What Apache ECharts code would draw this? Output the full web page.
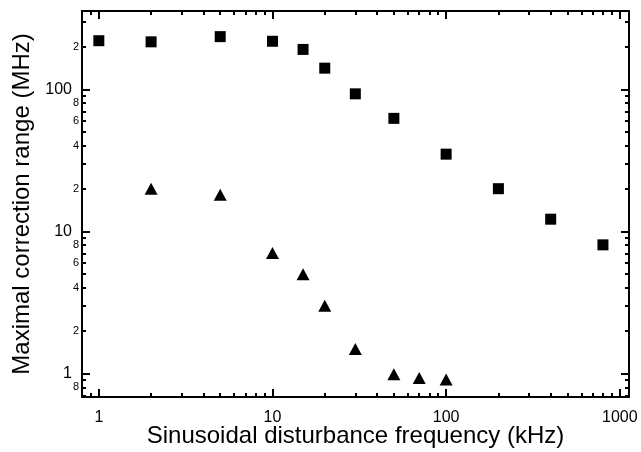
<!DOCTYPE html>
<html>
<head>
<meta charset="utf-8">
<script src="https://cdn.jsdelivr.net/npm/echarts@6/dist/echarts.min.js"></script>
<style>
html,body{margin:0;padding:0;background:#fff;}
#chart{width:641px;height:452px;}
</style>
</head>
<body>
<div id="chart"></div>
<script>
// Data
const freqSquares = [1, 2, 5, 10, 15, 20, 30, 50, 100, 200, 400, 800];
const rangeSquares = [220, 216, 235, 218, 191, 141, 93, 62.5, 35, 20, 12.2, 8.05];
const freqTriangles = [2, 5, 10, 15, 20, 30, 50, 70, 100];
const rangeTriangles = [20, 18.1, 7.05, 5.0, 3.0, 1.49, 0.99, 0.93, 0.907];

// Tick positions
const xMajor = [1, 10, 100, 1000];
const xMinor = [0.9, 2, 3, 4, 5, 6, 7, 8, 9, 20, 30, 40, 50, 60, 70, 80, 90, 200, 300, 400, 500, 600, 700, 800, 900];
const yMajor = [1, 10, 100];
const yLabeled = [0.8, 1, 2, 4, 6, 8, 10, 20, 40, 60, 80, 100, 200];
const yMinor = [0.7, 0.8, 0.9, 2, 3, 4, 5, 6, 7, 8, 9, 20, 30, 40, 50, 60, 70, 80, 90, 200, 300];

const X_MIN = 0.8, X_MAX = 1130;
const Y_MIN = 0.684, Y_MAX = 356;

const FONT = 'Liberation Sans, Arial, sans-serif';
const black = '#000';

function yFmt(v) {
  const l = Math.log10(v);
  if (Math.abs(l - Math.round(l)) < 1e-6) return '{big|' + Math.round(Math.pow(10, Math.round(l))) + '}';
  const d = Math.round(v / Math.pow(10, Math.floor(l + 1e-9)));
  return '{small|' + d + '}';
}

function xAxisDef(pos, ticks, len, showLine, label, name) {
  return {
    type: 'log', logBase: 10, min: X_MIN, max: X_MAX, position: pos,
    axisLine: { show: showLine, onZero: false, lineStyle: { color: black, width: 2 } },
    axisTick: { show: true, inside: true, length: len, customValues: ticks, lineStyle: { color: black, width: 2 } },
    axisLabel: label ? {
      show: true, customValues: xMajor, color: black, fontSize: 16, fontFamily: FONT, margin: 13,
      formatter: v => String(Math.round(v))
    } : { show: false },
    splitLine: { show: false },
    minorTick: { show: false },
    name: name || '',
    nameLocation: 'middle', nameGap: 27, nameMoveOverlap: false,
    nameTextStyle: { color: black, fontSize: 24, fontFamily: FONT }
  };
}
function yAxisDef(pos, ticks, len, showLine, label, name) {
  return {
    type: 'log', logBase: 10, min: Y_MIN, max: Y_MAX, position: pos,
    axisLine: { show: showLine, onZero: false, lineStyle: { color: black, width: 2 } },
    axisTick: { show: true, inside: true, length: len, customValues: ticks, lineStyle: { color: black, width: 2 } },
    axisLabel: label ? {
      show: true, customValues: yLabeled, color: black, fontFamily: FONT, margin: 3,
      formatter: yFmt,
      rich: {
        big: { fontSize: 16, fontFamily: FONT, color: black, padding: [0, 7, 0, 0] },
        small: { fontSize: 11, fontFamily: FONT, color: black }
      }
    } : { show: false },
    splitLine: { show: false },
    minorTick: { show: false },
    name: name || '',
    nameLocation: 'middle', nameGap: 48, nameRotate: 90, nameMoveOverlap: false,
    nameTextStyle: { color: black, fontSize: 24, fontFamily: FONT }
  };
}

const chart = echarts.init(document.getElementById('chart'), null, { renderer: 'canvas' });
chart.setOption({
  backgroundColor: '#fff',
  animation: false,
  grid: { left: 82, right: 12, top: 11, bottom: 55, containLabel: false, outerBoundsMode: 'none' },
  xAxis: [
    xAxisDef('bottom', xMajor, 8, true, true, 'Sinusoidal disturbance frequency (kHz)'),
    xAxisDef('bottom', xMinor, 4, false, false),
    xAxisDef('top', xMajor, 8, true, false),
    xAxisDef('top', xMinor, 4, false, false)
  ],
  yAxis: [
    yAxisDef('left', yMajor, 8, true, true, 'Maximal correction range (MHz)'),
    yAxisDef('left', yMinor, 4, false, false),
    yAxisDef('right', yMajor, 8, true, false),
    yAxisDef('right', yMinor, 4, false, false)
  ],
  series: [
    {
      type: 'scatter', xAxisIndex: 0, yAxisIndex: 0,
      symbol: 'rect', symbolSize: 11,
      itemStyle: { color: black, opacity: 1 },
      data: freqSquares.map((f, i) => [f, rangeSquares[i]])
    },
    {
      type: 'scatter', xAxisIndex: 0, yAxisIndex: 0,
      symbol: 'triangle', symbolSize: [13, 12],
      itemStyle: { color: black, opacity: 1 },
      data: freqTriangles.map((f, i) => [f, rangeTriangles[i]])
    }
  ]
});
</script>
</body>
</html>
